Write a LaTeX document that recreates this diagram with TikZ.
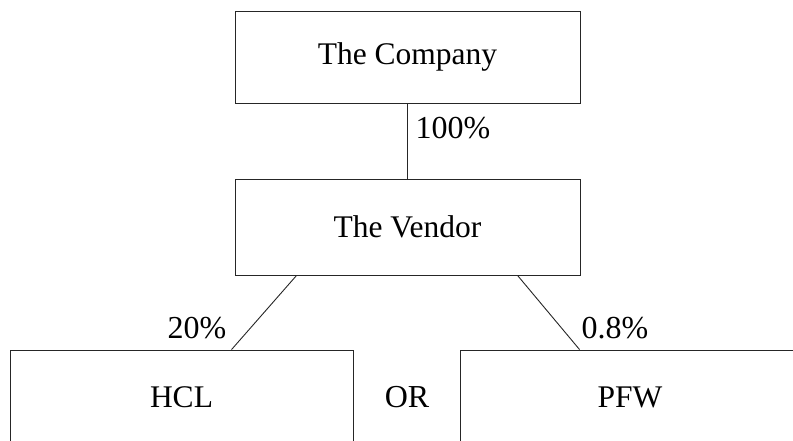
\documentclass[tikz,border=0pt]{standalone}
\usepackage{fontspec}
\setmainfont{Liberation Serif}
\usetikzlibrary{calc}
\begin{document}
\begin{tikzpicture}[x=1pt,y=1pt,
  box/.style={draw=black!85,line width=0.9pt,inner sep=0pt,font=\fontsize{31.5}{36}\selectfont},
  lbl/.style={font=\fontsize{32}{36}\selectfont,inner sep=0pt},
  link/.style={draw=black!85,line width=0.9pt}]
\useasboundingbox (0,0) rectangle (793,-440);
\clip (0,0) rectangle (793,-440);
\node[box,minimum width=345,minimum height=92] (company) at (407.5,-57) {The Company};
\node[box,minimum width=345,minimum height=96] (vendor) at (407.5,-227) {The Vendor};
\node[box,minimum width=343,minimum height=94] (hcl) at (181.5,-397) {HCL};
\node[box,minimum width=340,minimum height=94] (pfw) at (630,-397) {PFW};
\node[lbl] (or) at (407,-397) {OR};
\draw[link] (company.south) -- (vendor.north);
\node[lbl] (p100) at (453,-128) {100\%};
\draw[link] ([xshift=62]vendor.south west) -- ([xshift=222]hcl.north west);
\draw[link] ([xshift=283]vendor.south west) -- ([xshift=120]pfw.north west);
\node[lbl] (p20) at (197,-328) {20\%};
\node[lbl] (p08) at (615,-328) {0.8\%};
\end{tikzpicture}
\end{document}
